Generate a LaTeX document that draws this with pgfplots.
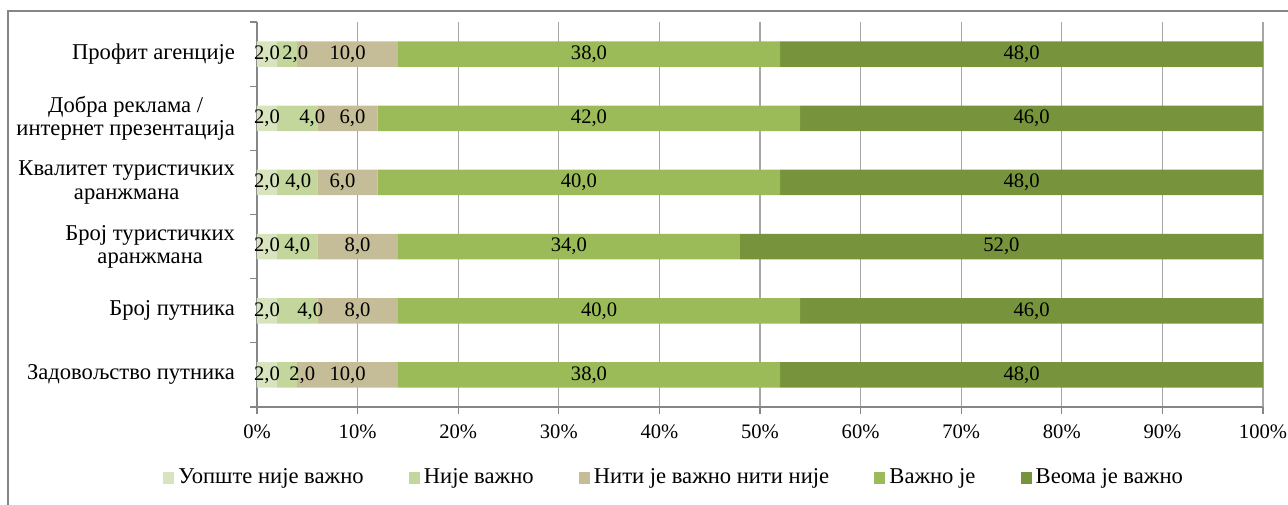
\documentclass[border=0pt]{standalone}
\usepackage{pgfplots}
\pgfplotsset{compat=1.18}
\usepackage{fontspec}
\setmainfont{Liberation Serif}

\definecolor{cNone}{HTML}{D7E4BD}
\definecolor{cNot}{HTML}{C3D69B}
\definecolor{cNeutral}{HTML}{C4BD97}
\definecolor{cImp}{HTML}{9BBB59}
\definecolor{cVery}{HTML}{77933C}
\definecolor{axisgray}{HTML}{868686}
\definecolor{gridgray}{HTML}{A6A6A6}

% y: 0 = Задовољство путника ... 5 = Профит агенције
% dx: horizontal nudge of the value label (pt) where neighbouring labels crowd
\pgfplotstableread{
y v dx
0 2 0
1 2 0
2 2 0
3 2 0
4 2 0
5 2 0
}\tNone
\pgfplotstableread{
y v dx
0 2 7.5
1 4 6.5
2 4 0
3 4 0.5
4 4 7.5
5 2 4
}\tNot
\pgfplotstableread{
y v dx
0 10 0
1 8 0
2 8 0
3 6 -2.5
4 6 2.5
5 10 0
}\tNeutral
\pgfplotstableread{
y v dx
0 38 0
1 40 0
2 34 0
3 40 0
4 42 0
5 38 0
}\tImp
\pgfplotstableread{
y v dx
0 48 0
1 46 0
2 52 0
3 48 0
4 46 0
5 48 0
}\tVery

\begin{document}
\begin{tikzpicture}
\begin{axis}[
  scale only axis,
  width=503pt, height=192.5pt,
  xbar stacked,
  bar width=12.75pt,
  xmin=0, xmax=100,
  ymin=-0.5, ymax=5.5,
  /pgf/number format/assume math mode=true,
  axis lines*=left,
  axis line style={draw=axisgray, line width=0.6pt, -},
  tick align=outside,
  major tick length=3.5pt,
  tick style={draw=axisgray, line width=0.6pt},
  xtick={0,10,...,100},
  xticklabel={\pgfmathprintnumber{\tick}\%},
  xmajorgrids,
  grid style={draw=gridgray, line width=0.6pt},
  ytick={-0.5,0.5,1.5,2.5,3.5,4.5,5.5},
  y tick label as interval,
  yticklabels={
    Задовољство путника,
    Број путника,
    {Број туристичких\\аранжмана},
    {Квалитет туристичких\\аранжмана},
    {Добра реклама /\\интернет презентација},
    Профит агенције},
  xticklabel style={font=\fontsize{10.3}{12}\selectfont, text=black, yshift=-2pt},
  yticklabel style={font=\fontsize{11.3}{11.6}\selectfont, align=center, text=black, xshift=-4pt},
  visualization depends on={\thisrow{dx} \as \labeldx},
  nodes near coords={\pgfmathprintnumber[fixed,fixed zerofill,precision=1,use comma]{\pgfplotspointmeta}},
  every node near coord/.append style={font=\fontsize{10.3}{12}\selectfont, text=black, xshift=\labeldx pt},
  legend columns=-1,
  legend style={
    at={(0.4155,0)}, anchor=center, yshift=-35.5pt,
    draw=none, fill=none,
    font=\fontsize{11.3}{13}\selectfont,
    /tikz/every even column/.append style={column sep=20.5pt}},
  legend image code/.code={\fill[#1] (0pt,-2.8pt) rectangle (5.6pt,2.8pt);},
]
\addplot[fill=cNone, draw=none] table[x=v, y=y] {\tNone};
\addplot[fill=cNot, draw=none] table[x=v, y=y] {\tNot};
\addplot[fill=cNeutral, draw=none] table[x=v, y=y] {\tNeutral};
\addplot[fill=cImp, draw=none] table[x=v, y=y] {\tImp};
\addplot[fill=cVery, draw=none] table[x=v, y=y] {\tVery};
\legend{Уопште није важно, Није важно, Нити је важно нити није, Важно је, Веома је важно}
\end{axis}
% chart frame
\draw[axisgray, line width=1pt] (-124.5pt,-70pt) rectangle (540pt,198pt);
\pgfresetboundingbox
\useasboundingbox (-128.5pt,-48.5pt) rectangle (515.5pt,203.5pt);
\end{tikzpicture}
\end{document}
